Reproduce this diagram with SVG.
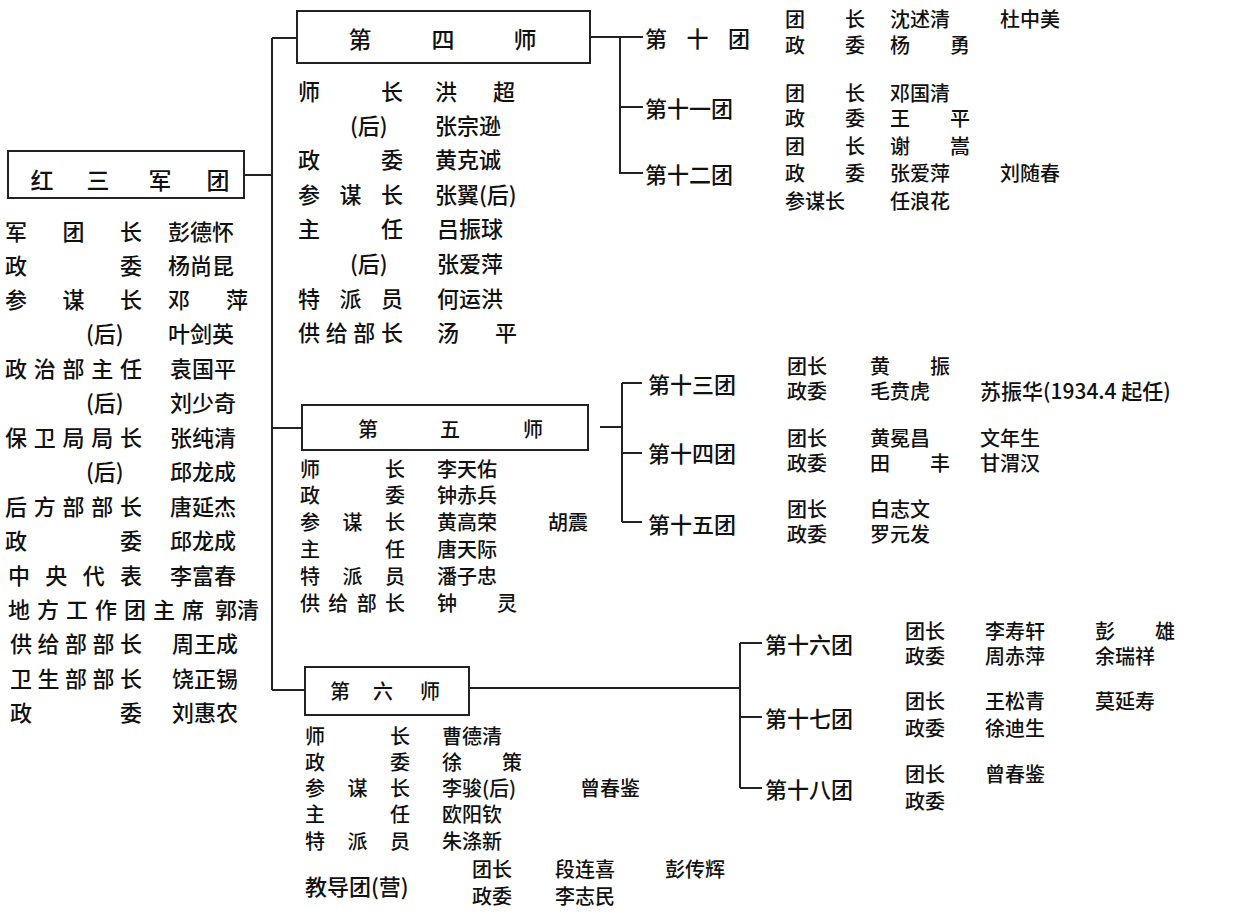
<svg xmlns="http://www.w3.org/2000/svg" width="1255" height="917" viewBox="0 0 1255 917">
<style>
text{font-family:"Noto Sans CJK SC","Noto Sans",sans-serif;font-size:22px;font-weight:500;fill:#111;dominant-baseline:central}
.s text{font-size:20px}
.b{fill:#fff;stroke:#222;stroke-width:2}
.c{fill:none;stroke:#222;stroke-width:2}
.t{font-size:23px;text-anchor:middle}
</style>
<rect width="1255" height="917" fill="#fff"/>
<g id="connectors">
<path class="c" d="M244 175H272M272 38V690M272 38H297M272 428H302M272 690H305"/>
<path class="c" d="M591 37H643M620 37V173H643M620 107H643"/>
<path class="c" d="M600 427H622M622 383V522M622 383H642M622 453H642M622 522H642"/>
<path class="c" d="M470 688H740M740 643V788M740 643H762M740 717H762M740 788H762"/>
</g>
<g id="root">
<rect class="b" x="8" y="151" width="236" height="47"/>
<text class="t" x="42" y="179">红</text><text class="t" x="98" y="179">三</text><text class="t" x="160" y="179">军</text><text class="t" x="218" y="179">团</text>
<text x="5" y="230" textLength="137" lengthAdjust="spacing">军团长</text><text x="168" y="230">彭德怀</text>
<text x="5" y="264" textLength="137" lengthAdjust="spacing">政委</text><text x="168" y="264">杨尚昆</text>
<text x="5" y="298" textLength="137" lengthAdjust="spacing">参谋长</text><text x="168" y="298" textLength="80" lengthAdjust="spacing">邓萍</text>
<text x="86" y="332">(后)</text><text x="168" y="332">叶剑英</text>
<text x="5" y="367" textLength="137" lengthAdjust="spacing">政治部主任</text><text x="170" y="367">袁国平</text>
<text x="86" y="401">(后)</text><text x="170" y="401">刘少奇</text>
<text x="5" y="436" textLength="137" lengthAdjust="spacing">保卫局局长</text><text x="170" y="436">张纯清</text>
<text x="86" y="470">(后)</text><text x="170" y="470">邱龙成</text>
<text x="5" y="505" textLength="137" lengthAdjust="spacing">后方部部长</text><text x="170" y="505">唐延杰</text>
<text x="5" y="539" textLength="137" lengthAdjust="spacing">政委</text><text x="170" y="539">邱龙成</text>
<text x="8" y="574" textLength="134" lengthAdjust="spacing">中央代表</text><text x="170" y="574">李富春</text>
<text x="8" y="608" textLength="196" lengthAdjust="spacing">地方工作团主席</text><text x="215" y="608">郭清</text>
<text x="10" y="642" textLength="132" lengthAdjust="spacing">供给部部长</text><text x="172" y="642">周王成</text>
<text x="10" y="677" textLength="132" lengthAdjust="spacing">卫生部部长</text><text x="172" y="677">饶正锡</text>
<text x="10" y="711" textLength="132" lengthAdjust="spacing">政委</text><text x="172" y="711">刘惠农</text>
</g>
<g id="div4">
<rect class="b" x="297" y="11" width="293" height="52"/>
<text class="t" x="360" y="38">第</text><text class="t" x="443" y="38">四</text><text class="t" x="525" y="38">师</text>
<text x="298" y="90" textLength="105" lengthAdjust="spacing">师长</text><text x="435" y="90" textLength="80" lengthAdjust="spacing">洪超</text>
<text x="350" y="124">(后)</text><text x="435" y="124">张宗逊</text>
<text x="298" y="158" textLength="105" lengthAdjust="spacing">政委</text><text x="435" y="158">黄克诚</text>
<text x="298" y="193" textLength="105" lengthAdjust="spacing">参谋长</text><text x="435" y="193">张翼(后)</text>
<text x="298" y="227" textLength="105" lengthAdjust="spacing">主任</text><text x="437" y="227">吕振球</text>
<text x="350" y="262">(后)</text><text x="437" y="262">张爱萍</text>
<text x="298" y="297" textLength="105" lengthAdjust="spacing">特派员</text><text x="437" y="297">何运洪</text>
<text x="298" y="331" textLength="105" lengthAdjust="spacing">供给部长</text><text x="437" y="331" textLength="80" lengthAdjust="spacing">汤平</text>
</g>
<g id="r10" class="s"><text x="645" y="37" textLength="105" lengthAdjust="spacing" style="font-size:22px">第十团</text>
<text x="785" y="18" textLength="80" lengthAdjust="spacing">团长</text><text x="890" y="18">沈述清</text><text x="1000" y="18">杜中美</text>
<text x="785" y="44" textLength="80" lengthAdjust="spacing">政委</text><text x="890" y="44" textLength="80" lengthAdjust="spacing">杨勇</text></g>
<g id="r11" class="s"><text x="645" y="107" style="font-size:22px">第十一团</text>
<text x="785" y="92" textLength="80" lengthAdjust="spacing">团长</text><text x="890" y="92">邓国清</text>
<text x="785" y="117" textLength="80" lengthAdjust="spacing">政委</text><text x="890" y="117" textLength="80" lengthAdjust="spacing">王平</text></g>
<g id="r12" class="s"><text x="645" y="173" style="font-size:22px">第十二团</text>
<text x="785" y="145" textLength="80" lengthAdjust="spacing">团长</text><text x="890" y="145" textLength="80" lengthAdjust="spacing">谢嵩</text>
<text x="785" y="172" textLength="80" lengthAdjust="spacing">政委</text><text x="890" y="172">张爱萍</text><text x="1000" y="172">刘随春</text>
<text x="785" y="200">参谋长</text><text x="890" y="200">任浪花</text></g>
<g id="div5" class="s">
<rect class="b" x="302" y="405" width="286" height="45"/>
<text class="t" x="368" y="428">第</text><text class="t" x="450" y="428">五</text><text class="t" x="533" y="428">师</text>
<text x="300" y="468" textLength="105" lengthAdjust="spacing">师长</text><text x="437" y="468">李天佑</text>
<text x="300" y="494" textLength="105" lengthAdjust="spacing">政委</text><text x="437" y="494">钟赤兵</text>
<text x="300" y="521" textLength="105" lengthAdjust="spacing">参谋长</text><text x="437" y="521">黄高荣</text><text x="548" y="521">胡震</text>
<text x="300" y="548" textLength="105" lengthAdjust="spacing">主任</text><text x="437" y="548">唐天际</text>
<text x="300" y="575" textLength="105" lengthAdjust="spacing">特派员</text><text x="437" y="575">潘子忠</text>
<text x="300" y="602" textLength="105" lengthAdjust="spacing">供给部长</text><text x="437" y="602" textLength="80" lengthAdjust="spacing">钟灵</text>
</g>
<g id="r13" class="s"><text x="648" y="383" style="font-size:22px">第十三团</text>
<text x="787" y="365">团长</text><text x="870" y="365" textLength="80" lengthAdjust="spacing">黄振</text>
<text x="787" y="390">政委</text><text x="870" y="390">毛贲虎</text><text x="980" y="390" style="font-size:21px">苏振华(1934.4 起任)</text></g>
<g id="r14" class="s"><text x="648" y="452" style="font-size:22px">第十四团</text>
<text x="787" y="437">团长</text><text x="870" y="437">黄冕昌</text><text x="980" y="437">文年生</text>
<text x="787" y="462">政委</text><text x="870" y="462" textLength="80" lengthAdjust="spacing">田丰</text><text x="980" y="462">甘渭汉</text></g>
<g id="r15" class="s"><text x="648" y="523" style="font-size:22px">第十五团</text>
<text x="787" y="508">团长</text><text x="870" y="508">白志文</text>
<text x="787" y="533">政委</text><text x="870" y="533">罗元发</text></g>
<g id="div6" class="s">
<rect class="b" x="305" y="667" width="164" height="48"/>
<text class="t" x="340" y="690">第</text><text class="t" x="383" y="690">六</text><text class="t" x="430" y="690">师</text>
<text x="305" y="735" textLength="105" lengthAdjust="spacing">师长</text><text x="442" y="735">曹德清</text>
<text x="305" y="761" textLength="105" lengthAdjust="spacing">政委</text><text x="442" y="761" textLength="80" lengthAdjust="spacing">徐策</text>
<text x="305" y="787" textLength="105" lengthAdjust="spacing">参谋长</text><text x="442" y="787">李骏(后)</text><text x="580" y="787">曾春鉴</text>
<text x="305" y="813" textLength="105" lengthAdjust="spacing">主任</text><text x="442" y="813">欧阳钦</text>
<text x="305" y="840" textLength="105" lengthAdjust="spacing">特派员</text><text x="442" y="840">朱涤新</text>
<text x="305" y="885" style="font-size:22px">教导团(营)</text>
<text x="472" y="868">团长</text><text x="555" y="868">段连喜</text><text x="665" y="868">彭传辉</text>
<text x="472" y="895">政委</text><text x="555" y="895">李志民</text>
</g>
<g id="r16" class="s"><text x="765" y="643" style="font-size:22px">第十六团</text>
<text x="905" y="630">团长</text><text x="985" y="630">李寿轩</text><text x="1095" y="630" textLength="80" lengthAdjust="spacing">彭雄</text>
<text x="905" y="655">政委</text><text x="985" y="655">周赤萍</text><text x="1095" y="655">余瑞祥</text></g>
<g id="r17" class="s"><text x="765" y="717" style="font-size:22px">第十七团</text>
<text x="905" y="700">团长</text><text x="985" y="700">王松青</text><text x="1095" y="700">莫延寿</text>
<text x="905" y="727">政委</text><text x="985" y="727">徐迪生</text></g>
<g id="r18" class="s"><text x="765" y="788" style="font-size:22px">第十八团</text>
<text x="905" y="773">团长</text><text x="985" y="773">曾春鉴</text>
<text x="905" y="800">政委</text></g>
</svg>
